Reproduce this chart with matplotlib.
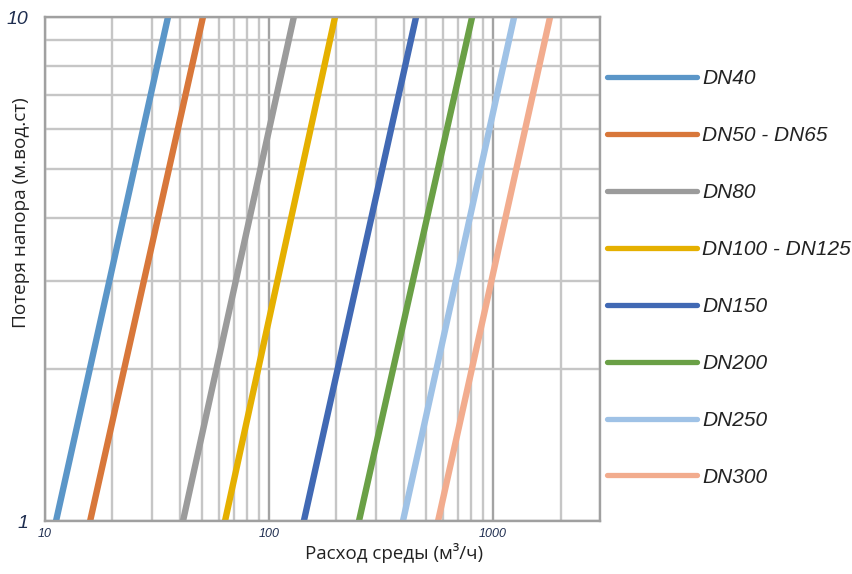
import numpy as np
import matplotlib.pyplot as plt
from matplotlib.ticker import NullFormatter, LogLocator

# flow (m3/h) at head loss 1 and 10 m
labels = ["DN40", "DN50 - DN65", "DN80", "DN100 - DN125",
          "DN150", "DN200", "DN250", "DN300"]
flow_at_1 = [11.2, 15.9, 41.3, 63.6, 143, 252, 396, 568]
flow_at_10 = [35.4, 50.7, 129, 197, 453, 806, 1241, 1796]
head = [1, 10]
colors = ["#5b96c8", "#d8773a", "#9b9b9b", "#e5b000",
          "#4169b4", "#6aa046", "#9fc2e6", "#f2ac8e"]

plt.rcParams['font.family'] = ['Liberation Sans', 'DejaVu Sans']
tick_col = "#1e2d4f"

fig = plt.figure(figsize=(8.52, 5.74), dpi=100)
ax = fig.add_axes([45 / 852, 1 - 521 / 574, 555 / 852, 504 / 574])

for q1, q10, lab, c in zip(flow_at_1, flow_at_10, labels, colors):
    ax.plot([q1, q10], head, color=c, lw=4.6, label=lab, solid_capstyle='butt')

ax.set_xscale('log')
ax.set_yscale('log')
ax.set_xlim(10, 3000)
ax.set_ylim(1, 10)

ax.xaxis.set_minor_locator(LogLocator(base=10, subs=np.arange(2, 10)))
ax.yaxis.set_minor_locator(LogLocator(base=10, subs=np.arange(2, 10)))
ax.xaxis.set_minor_formatter(NullFormatter())
ax.yaxis.set_minor_formatter(NullFormatter())
ax.set_xticks([10, 100, 1000])
ax.set_xticklabels(["10", "100", "1000"], fontsize=9, style='italic', color=tick_col)
ax.set_yticks([1, 10])
ax.set_yticklabels(["1", "10"], fontsize=14, style='italic', color=tick_col)
ax.tick_params(which='both', length=0)
ax.tick_params(axis='x', pad=5)
ax.tick_params(axis='y', pad=12)

ax.grid(which='minor', color='#c6c6c6', lw=1.7)
ax.grid(which='major', color='#a3a3a3', lw=1.7)
ax.set_axisbelow(True)
for s in ax.spines.values():
    s.set_color('#a0a0a0')
    s.set_linewidth(1.7)

fig.text(394 / 852, 1 - 553 / 574, "Расход среды (м³/ч)", fontsize=13.5,
         family=['Open Sans', 'DejaVu Sans'], ha='center', va='center', color='#222222')
fig.text(21 / 852, 1 - 213 / 574, "Потеря напора (м.вод.ст)", fontsize=13.7,
         family=['Open Sans', 'DejaVu Sans'], ha='center', va='center',
         rotation=90, color='#222222')

leg = fig.legend(loc='upper left', bbox_to_anchor=(599 / 852, 1 - 61 / 574),
                 frameon=False, handlelength=4.3, handletextpad=0.25,
                 borderaxespad=0, labelspacing=1.82,
                 prop={'size': 15, 'style': 'italic'})
for h in leg.get_lines():
    h.set_linewidth(3.8)
    h.set_solid_capstyle('round')
for t in leg.get_texts():
    t.set_color('#222222')

fig.savefig("out.png", dpi=100)
